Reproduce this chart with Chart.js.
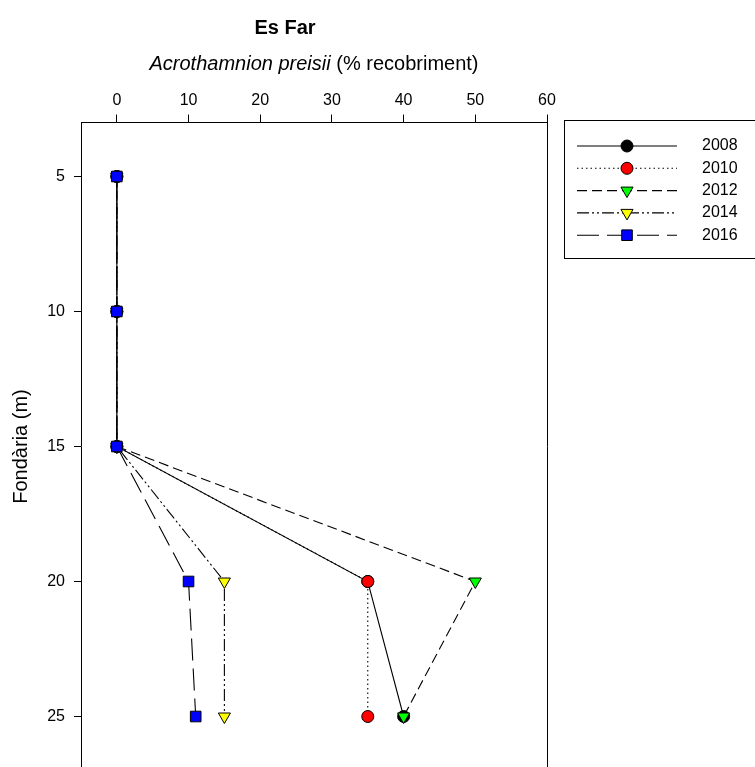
<!DOCTYPE html>
<html lang="ca">
<head>
    <meta charset="UTF-8">
    <title>Es Far - Acrothamnion preisii</title>
    <script src="https://cdn.jsdelivr.net/npm/chart.js"></script>
    <style>
        html, body {
            margin: 0;
            padding: 0;
            background: #fff;
            overflow: hidden;
        }

        .chart-box {
            width: 755px;
            height: 790px;
        }
    </style>
</head>
<body>
    <div class="chart-box">
        <canvas id="perfil"></canvas>
    </div>
    <script>
        // dades llegides del gràfic
        const fondaries = [5, 10, 15, 20, 25];
        const anys = ['2008', '2010', '2012', '2014', '2016'];
        const cob2008 = [0, 0, 0, 35, 40];
        const cob2010 = [0, 0, 0, 35, 35];
        const cob2012 = [0, 0, 0, 50, 40];
        const cob2014 = [0, 0, 0, 15, 15];
        const cob2016 = [0, 0, 0, 10, 11];
        const xTicks = [0, 10, 20, 30, 40, 50, 60];
        const yTicks = [5, 10, 15, 20, 25];

        const FONT = "'Liberation Sans', Arial, sans-serif";

        function punts(valors) {
            return valors.map((v, i) => ({ x: v, y: fondaries[i] }));
        }

        const estils = [
            { valors: cob2008, dash: [], color: '#000000', forma: 'circle', radi: 6, rot: 0 },
            { valors: cob2010, dash: [1.5, 3], color: '#ff0000', forma: 'circle', radi: 6, rot: 0 },
            { valors: cob2012, dash: [10, 5], color: '#00ff00', forma: 'triangle', radi: 7, rot: 180 },
            { valors: cob2014, dash: [12, 3, 2, 3, 2, 3], color: '#ffff00', forma: 'triangle', radi: 7, rot: 180 },
            { valors: cob2016, dash: [22, 8], color: '#0000ff', forma: 'rect', radi: 7.5, rot: 0 }
        ];

        // l'últim any es dibuixa a sobre
        const datasets = estils.map((e, i) => ({
            label: anys[i],
            data: punts(e.valors),
            order: estils.length - i,
            showLine: true,
            borderColor: '#000',
            borderWidth: 1.1,
            borderDash: e.dash,
            pointStyle: e.forma,
            pointRadius: e.radi,
            pointRotation: e.rot,
            pointBackgroundColor: e.color,
            pointBorderColor: '#000',
            pointBorderWidth: 1
        }));

        // títols, marc dret i llegenda
        const marcILlegenda = {
            id: 'marcILlegenda',
            afterDraw(chart) {
                const ctx = chart.ctx;
                const a = chart.chartArea;
                ctx.save();
                ctx.strokeStyle = '#000';
                ctx.lineWidth = 1;
                ctx.beginPath();
                ctx.moveTo(Math.round(a.right) + 0.5, a.top);
                ctx.lineTo(Math.round(a.right) + 0.5, a.bottom);
                ctx.stroke();

                // títol principal
                ctx.fillStyle = '#000';
                ctx.textAlign = 'center';
                ctx.textBaseline = 'middle';
                ctx.font = 'bold 20px ' + FONT;
                ctx.fillText('Es Far', 285, 28);

                // títol de l'eix x: nom de l'espècie en cursiva
                const cursiva = 'Acrothamnion preisii';
                const resta = ' (% recobriment)';
                ctx.font = 'italic 20px ' + FONT;
                const w1 = ctx.measureText(cursiva).width;
                ctx.font = '20px ' + FONT;
                const w2 = ctx.measureText(resta).width;
                const x0 = (a.left + a.right) / 2 - (w1 + w2) / 2;
                ctx.textAlign = 'left';
                ctx.textBaseline = 'alphabetic';
                ctx.font = 'italic 20px ' + FONT;
                ctx.fillText(cursiva, x0, 70);
                ctx.font = '20px ' + FONT;
                ctx.fillText(resta, x0 + w1, 70);

                // caixa de la llegenda
                ctx.strokeRect(564.5, 120.5, 220, 138);
                chart.data.datasets.forEach((ds, i) => {
                    const y = 146 + i * 22.3;
                    ctx.beginPath();
                    ctx.setLineDash(ds.borderDash);
                    ctx.lineWidth = ds.borderWidth;
                    ctx.strokeStyle = '#000';
                    ctx.moveTo(577, y);
                    ctx.lineTo(677, y);
                    ctx.stroke();
                    ctx.setLineDash([]);
                    ctx.fillStyle = ds.pointBackgroundColor;
                    ctx.lineWidth = 1;
                    Chart.helpers.drawPoint(ctx, {
                        pointStyle: ds.pointStyle,
                        radius: ds.pointRadius,
                        rotation: ds.pointRotation,
                        borderWidth: 1
                    }, 627, y);
                    ctx.fillStyle = '#000';
                    ctx.font = '16px ' + FONT;
                    ctx.textAlign = 'left';
                    ctx.textBaseline = 'middle';
                    ctx.fillText(ds.label, 702, y);
                });
                ctx.restore();
            }
        };

        new Chart(document.getElementById('perfil'), {
            type: 'scatter',
            data: { datasets: datasets },
            options: {
                responsive: true,
                maintainAspectRatio: false,
                animation: false,
                layout: { padding: { left: 0, right: 208, top: 0, bottom: 19.5 } },
                plugins: {
                    legend: { display: false },
                    tooltip: { enabled: false },
                    title: { display: false }
                },
                scales: {
                    x: {
                        type: 'linear',
                        position: 'top',
                        min: -5,
                        max: 60,
                        afterBuildTicks: s => { s.ticks = xTicks.map(v => ({ value: v })); },
                        afterFit: s => { s.height = 122.5; },
                        ticks: { color: '#000', font: { family: FONT, size: 16 }, padding: 4 },
                        grid: { drawOnChartArea: false, drawTicks: true, tickLength: 8, color: '#000' },
                        border: { display: true, color: '#000' },
                        title: { display: false }
                    },
                    y: {
                        type: 'linear',
                        reverse: true,
                        min: 3,
                        max: 27,
                        afterBuildTicks: s => { s.ticks = yTicks.map(v => ({ value: v })); },
                        afterFit: s => { s.width = 81; },
                        ticks: { color: '#000', font: { family: FONT, size: 16 }, padding: 9 },
                        grid: { drawOnChartArea: false, drawTicks: true, tickLength: 7, color: '#000' },
                        border: { display: true, color: '#000' },
                        title: {
                            display: true,
                            text: 'Fondària (m)',
                            color: '#000',
                            font: { family: FONT, size: 20 },
                            padding: { top: 9, bottom: 0 }
                        }
                    }
                }
            },
            plugins: [marcILlegenda]
        });
    </script>
</body>
</html>
